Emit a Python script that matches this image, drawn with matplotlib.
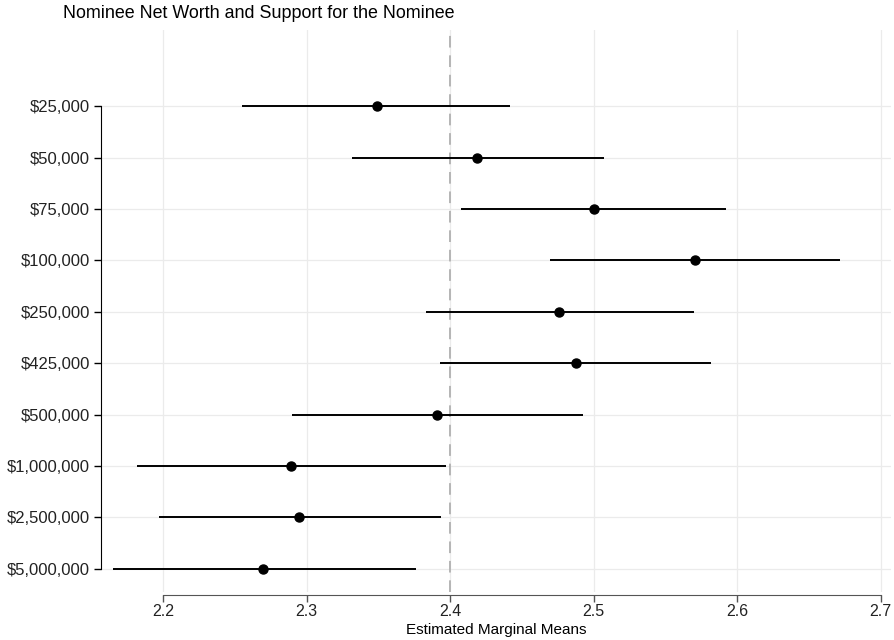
import matplotlib
matplotlib.use('Agg')
import matplotlib.pyplot as plt

plt.rcParams['font.family'] = ['Liberation Sans', 'DejaVu Sans']

# estimated marginal means with 95% CIs
levels = ['$25,000', '$50,000', '$75,000', '$100,000', '$250,000',
          '$425,000', '$500,000', '$1,000,000', '$2,500,000', '$5,000,000']
emm = [2.349, 2.419, 2.500, 2.571, 2.476, 2.488, 2.391, 2.289, 2.295, 2.270]
lower = [2.255, 2.332, 2.408, 2.470, 2.383, 2.393, 2.290, 2.182, 2.197, 2.165]
upper = [2.442, 2.507, 2.592, 2.672, 2.570, 2.582, 2.493, 2.397, 2.394, 2.376]
ref_line = 2.4
x_ticks = [2.2, 2.3, 2.4, 2.5, 2.6, 2.7]

fig = plt.figure(figsize=(8.95, 6.4), dpi=100)
# axes box: x 101..891 px, y 30..592 px
ax = fig.add_axes([101 / 895, 48 / 640, 790 / 895, 562 / 640])

pos = list(range(len(levels)))

ax.axvline(ref_line, color='#b5b5b5', linestyle=(0, (6, 4)), linewidth=1.4, zorder=1)
ax.hlines(pos, lower, upper, color='black', linewidth=1.4, zorder=3)
ax.plot(emm, pos, 'o', color='black', markersize=6.5, zorder=4)

ax.set_xlim(2.1568, 2.7073)
ax.set_ylim(9.45, -1.48)
ax.set_xticks(x_ticks)
ax.set_xticklabels(['{:.1f}'.format(t) for t in x_ticks])
ax.set_yticks(pos)
ax.set_yticklabels(levels)

ax.grid(True, color='#ebebeb', linewidth=0.9, zorder=0)
ax.set_axisbelow(True)

for s in ['top', 'right']:
    ax.spines[s].set_visible(False)
ax.spines['bottom'].set_position(('outward', 2))
ax.spines['bottom'].set_bounds(x_ticks[0], x_ticks[-1])
ax.spines['left'].set_bounds(pos[0], pos[-1])
ax.spines['bottom'].set_color('#555555')
ax.spines['left'].set_color('black')

ax.tick_params(axis='y', length=5, width=1, labelsize=12, pad=3, labelcolor='#222222')
ax.tick_params(axis='x', length=5, width=1, labelsize=11.5, color='#555555', pad=2,
               labelcolor='#222222')

ax.set_xlabel('Estimated Marginal Means', fontsize=11, labelpad=2.5)
fig.text(63 / 895, 1 - 14 / 640, 'Nominee Net Worth and Support for the Nominee',
         fontsize=12.9, ha='left', va='center')

fig.savefig('out.png', dpi=100)
